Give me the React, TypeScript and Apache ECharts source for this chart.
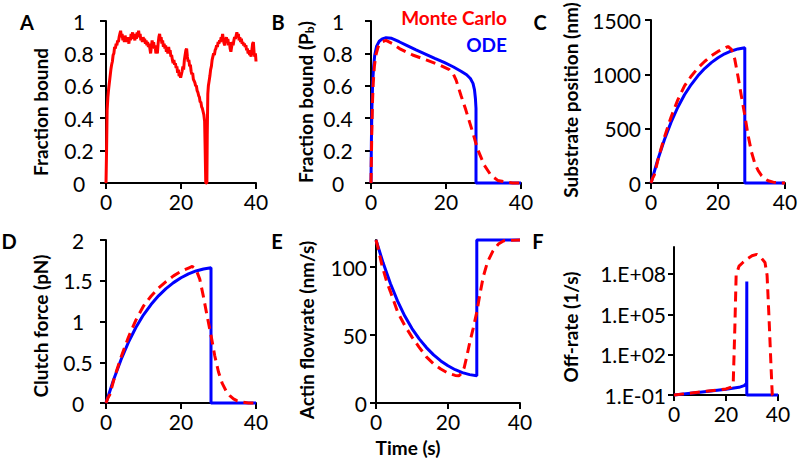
import React, { useEffect, useRef } from 'react';
import * as echarts from 'echarts';

const RED = '#ff0000';
const BLUE = '#0000ff';
const FONT = 'Lato';
const LABEL_SIZE = 21;
const NAME_SIZE = 19;

// X ticks shared by all panels
const xTicks = [0, 20, 40];

// Panel A: Monte Carlo fraction bound (single run)
const aT = [0, 0.15, 0.3, 0.5, 0.7, 0.9, 1.1, 1.3, 1.5, 1.7, 1.9, 2.1, 2.3, 2.5, 2.7, 2.9, 3.1, 3.3, 3.5, 3.7, 3.9, 4.1, 4.3, 4.5, 4.7, 4.9, 5.1, 5.3, 5.5, 5.7, 5.9, 6.1, 6.3, 6.5, 6.7, 6.9, 7.1, 7.3, 7.5, 7.7, 7.9, 8.1, 8.3, 8.5, 8.7, 8.9, 9.1, 9.3, 9.5, 9.7, 9.9, 10.1, 10.3, 10.5, 10.7, 10.9, 11.1, 11.3, 11.5, 11.7, 11.9, 12.1, 12.3, 12.5, 12.7, 12.9, 13.1, 13.3, 13.5, 13.7, 13.9, 14.1, 14.3, 14.5, 14.7, 14.9, 15.1, 15.3, 15.5, 15.7, 15.9, 16.1, 16.3, 16.5, 16.7, 16.9, 17.1, 17.3, 17.5, 17.7, 17.9, 18.1, 18.3, 18.5, 18.7, 18.9, 19.1, 19.3, 19.5, 19.7, 19.9, 20.1, 20.3, 20.5, 20.7, 20.9, 21.1, 21.3, 21.5, 21.7, 21.9, 22.1, 22.3, 22.5, 22.7, 22.9, 23.1, 23.3, 23.5, 23.7, 23.9, 24.1, 24.3, 24.5, 24.7, 24.9, 25.1, 25.3, 25.5, 25.7, 25.9, 26.1, 26.3, 26.45, 26.6, 26.9, 27.0, 27.15, 27.3, 27.5, 27.7, 27.9, 28.1, 28.3, 28.5, 28.7, 28.9, 29.1, 29.3, 29.5, 29.7, 29.9, 30.1, 30.3, 30.5, 30.7, 30.9, 31.1, 31.3, 31.5, 31.7, 31.9, 32.1, 32.3, 32.5, 32.7, 32.9, 33.1, 33.3, 33.5, 33.7, 33.9, 34.1, 34.3, 34.5, 34.7, 34.9, 35.1, 35.3, 35.5, 35.7, 35.9, 36.1, 36.3, 36.5, 36.7, 36.9, 37.1, 37.3, 37.5, 37.7, 37.9, 38.1, 38.3, 38.5, 38.7, 38.9, 39.1, 39.3, 39.5, 39.7, 39.85, 40];
const aY = [0, 0.2, 0.45, 0.53, 0.58, 0.62, 0.66, 0.7, 0.73, 0.75, 0.79, 0.8, 0.84, 0.83, 0.86, 0.85, 0.88, 0.87, 0.9, 0.92, 0.94, 0.9, 0.92, 0.88, 0.9, 0.87, 0.91, 0.88, 0.9, 0.87, 0.89, 0.86, 0.9, 0.88, 0.92, 0.9, 0.93, 0.89, 0.91, 0.88, 0.92, 0.89, 0.93, 0.91, 0.94, 0.9, 0.92, 0.88, 0.9, 0.87, 0.9, 0.88, 0.89, 0.86, 0.88, 0.85, 0.87, 0.84, 0.86, 0.83, 0.8, 0.84, 0.88, 0.85, 0.87, 0.83, 0.85, 0.8, 0.82, 0.8, 0.86, 0.9, 0.92, 0.88, 0.9, 0.86, 0.88, 0.84, 0.86, 0.83, 0.85, 0.81, 0.83, 0.8, 0.84, 0.81, 0.82, 0.78, 0.79, 0.76, 0.74, 0.76, 0.73, 0.74, 0.71, 0.72, 0.68, 0.7, 0.66, 0.67, 0.65, 0.67, 0.69, 0.72, 0.7, 0.76, 0.79, 0.82, 0.83, 0.78, 0.75, 0.76, 0.72, 0.73, 0.69, 0.67, 0.68, 0.64, 0.63, 0.62, 0.6, 0.6, 0.57, 0.56, 0.54, 0.53, 0.5, 0.5, 0.47, 0.46, 0.44, 0.42, 0.38, 0.2, 0, 0, 0.3, 0.55, 0.6, 0.63, 0.66, 0.7, 0.72, 0.76, 0.78, 0.8, 0.79, 0.82, 0.83, 0.85, 0.84, 0.87, 0.86, 0.88, 0.87, 0.9, 0.89, 0.92, 0.88, 0.86, 0.85, 0.88, 0.9, 0.87, 0.89, 0.85, 0.87, 0.83, 0.81, 0.84, 0.87, 0.85, 0.88, 0.9, 0.89, 0.91, 0.93, 0.9, 0.92, 0.88, 0.9, 0.87, 0.89, 0.86, 0.87, 0.85, 0.86, 0.84, 0.85, 0.82, 0.83, 0.8, 0.82, 0.79, 0.8, 0.78, 0.82, 0.86, 0.87, 0.8, 0.78, 0.8, 0.75];

// Panel B: fraction bound, ODE vs Monte Carlo
const bOdeT = [0, 0.1, 0.25, 0.45, 0.7, 1.0, 1.5, 2.2, 3.0, 4.0, 5.5, 7.5, 9.5, 12, 14.5, 17, 19.5, 22, 24, 25.5, 26.5, 27.2, 27.6, 27.85, 28, 28, 40];
const bOdeY = [0, 0.25, 0.47, 0.62, 0.72, 0.79, 0.845, 0.875, 0.89, 0.897, 0.893, 0.872, 0.85, 0.822, 0.796, 0.77, 0.745, 0.716, 0.69, 0.668, 0.645, 0.615, 0.575, 0.52, 0.46, 0, 0];
const bMcT = [0, 0.2, 0.4, 0.6, 0.9, 1.3, 1.9, 2.7, 4.0, 5.8, 7.6, 11.1, 14.7, 18.2, 20.9, 22, 22.7, 24, 25.3, 27.1, 28.4, 30.2, 32, 33.8, 36, 37.8, 40];
const bMcY = [0, 0.3, 0.5, 0.62, 0.72, 0.79, 0.84, 0.87, 0.88, 0.86, 0.83, 0.79, 0.76, 0.73, 0.7, 0.67, 0.635, 0.54, 0.45, 0.315, 0.21, 0.11, 0.047, 0.016, 0.006, 0, 0];

// Panels C, D, E: ODE time points
const odeT = [0, 2, 4, 6, 8, 10, 12, 14, 16, 18, 20, 22, 24, 26, 28, 28, 40];
// Panels C, D: Monte Carlo time points
const mcT = [0, 0.5, 1, 2, 3, 4, 6, 8, 10, 12, 14, 16, 18, 20, 22, 23, 24, 25, 26, 27, 28, 29, 30, 31, 32, 33, 34, 35, 36.5, 38, 40];

// Panel C: substrate position (nm)
const cOdeY = [0, 212, 398, 560, 697, 812, 906, 986, 1053, 1108, 1153, 1189, 1215, 1234, 1245, 0, 0];
const cMcY = [0, 45, 75, 203, 315, 420, 608, 765, 893, 983, 1058, 1118, 1170, 1211, 1241, 1256, 1230, 1140, 975, 795, 623, 435, 285, 180, 113, 68, 38, 20, 8, 0, 0];

// Panel D: clutch force (pN)
const dOdeY = [0, 0.282, 0.531, 0.747, 0.93, 1.082, 1.208, 1.315, 1.404, 1.477, 1.537, 1.585, 1.62, 1.645, 1.66, 0, 0];
const dMcY = [0, 0.06, 0.1, 0.27, 0.42, 0.56, 0.81, 1.02, 1.19, 1.31, 1.41, 1.49, 1.56, 1.615, 1.655, 1.675, 1.64, 1.52, 1.3, 1.06, 0.83, 0.58, 0.38, 0.24, 0.15, 0.09, 0.05, 0.026, 0.01, 0, 0];

// Panel E: actin flowrate (nm/s)
const eOdeY = [120, 103, 88, 75, 64, 54.8, 47.2, 40.8, 35.4, 31, 27.4, 24.5, 22.4, 20.9, 20, 120, 120];
const eMcT = [0, 0.5, 1.6, 3, 4, 6, 8, 10, 12, 14, 16, 18, 20, 22, 23, 23.8, 24.5, 25.2, 26, 27, 28, 29, 29.8, 31, 32.5, 34, 35.5, 40];
const eMcY = [120, 115, 102, 89, 82, 67, 57, 48.5, 41, 34, 28.8, 25, 22, 20.3, 20, 22, 26, 34, 44, 55, 67, 82, 93, 104, 112, 117, 119.5, 120];

// Panel F: off-rate, stored as log10(1/s)
const fOdeT = [0, 10, 20, 25, 27, 27.6, 27.9, 28, 28, 40];
const fOdeLog = [-1, -0.79, -0.58, -0.43, -0.3, -0.2, -0.1, 7.43, -1, -1];
const fMcT = [0, 10, 20, 22, 22.8, 23.4, 23.9, 25, 26.5, 28, 30, 31.8, 33.5, 35, 35.8, 36.6, 37.3, 37.8, 40];
const fMcLog = [-1, -0.78, -0.55, -0.42, 0, 4, 7.9, 8.58, 8.85, 9.1, 9.35, 9.45, 9.2, 8.85, 7.9, 4.5, 1.2, -1, -1];

// Y tick values per panel
const yTicksA = [0, 0.2, 0.4, 0.6, 0.8, 1];
const yTicksB = [0, 0.2, 0.4, 0.6, 0.8, 1];
const yTicksC = [0, 500, 1000, 1500];
const yTicksD = [0, 0.5, 1, 1.5, 2];
const yTicksE = [0, 50, 100];
const yTicksF = [-1, 2, 5, 8];

const pairs = (t: number[], y: number[]) => t.map((v, i) => [v, y[i]]);

const fmtPlain = (v: number) => String(v);
const fmtExp = (v: number) => {
  const e = Math.round(v);
  return '1.E' + (e < 0 ? '-' : '+') + String(Math.abs(e)).padStart(2, '0');
};

function xAxis(gridIndex: number) {
  return {
    type: 'value', gridIndex, min: 0, max: 40, interval: 20,
    axisLine: { show: true, onZero: false, lineStyle: { color: '#000', width: 2 } },
    axisTick: { show: true, inside: false, length: 6, lineStyle: { color: '#000', width: 2 }, customValues: xTicks },
    axisLabel: { color: '#000', fontSize: LABEL_SIZE, fontFamily: FONT, margin: 8, customValues: xTicks, formatter: fmtPlain },
    splitLine: { show: false },
  };
}

function yAxis(gridIndex: number, min: number, max: number, interval: number, ticks: number[], align: string, margin: number, formatter: (v: number) => string = fmtPlain) {
  return {
    type: 'value', gridIndex, min, max, interval,
    axisLine: { show: true, onZero: false, lineStyle: { color: '#000', width: 2 } },
    axisTick: { show: true, inside: false, length: 6, lineStyle: { color: '#000', width: 2 }, customValues: ticks },
    axisLabel: { color: '#000', fontSize: LABEL_SIZE, fontFamily: FONT, margin, align, customValues: ticks, formatter },
    splitLine: { show: false },
  };
}

function line(idx: number, t: number[], y: number[], color: string, dashed: boolean, width = 3) {
  return {
    type: 'line', xAxisIndex: idx, yAxisIndex: idx, data: pairs(t, y),
    symbol: 'none', showSymbol: false, smooth: false, clip: false,
    lineStyle: { color, width, type: dashed ? [10, 6] : 'solid', cap: 'butt' },
    z: dashed ? 3 : 2,
  };
}

function label(text: string, x: number, y: number, size = 19, color = '#000', align = 'center') {
  return {
    type: 'text', x, y, silent: true,
    style: { text, fill: color, fontSize: size, fontWeight: 'bold', fontFamily: FONT, align, verticalAlign: 'middle' },
  };
}

function vname(text: string, x: number, y: number) {
  return {
    type: 'text', x, y, rotation: Math.PI / 2, silent: true,
    style: { text, fill: '#000', fontSize: NAME_SIZE, fontWeight: 'bold', fontFamily: FONT, align: 'center', verticalAlign: 'middle' },
  };
}

export default function App() {
  const ref = useRef<HTMLDivElement>(null);
  useEffect(() => {
    if (!ref.current) return;
    const chart = echarts.init(ref.current, null, { renderer: 'svg' });
    const grids = [
      { left: 106, top: 21, width: 150, height: 162 },
      { left: 371, top: 21, width: 150, height: 162 },
      { left: 651, top: 20, width: 134, height: 163 },
      { left: 106, top: 240, width: 150, height: 163 },
      { left: 376, top: 240, width: 144, height: 163 },
      { left: 674, top: 247, width: 104, height: 148 },
    ].map(g => ({ ...g, containLabel: false, outerBoundsMode: 'none', show: false }));

    chart.setOption({
      animation: false,
      backgroundColor: '#fff',
      grid: grids,
      xAxis: [0, 1, 2, 3, 4, 5].map(i => xAxis(i)),
      yAxis: [
        yAxis(0, 0, 1, 0.2, yTicksA, 'center', 27),
        yAxis(1, 0, 1, 0.2, yTicksB, 'center', 33),
        yAxis(2, 0, 1500, 500, yTicksC, 'right', 10),
        yAxis(3, 0, 2, 0.5, yTicksD, 'center', 28),
        yAxis(4, 0, 120, 50, yTicksE, 'right', 9),
        yAxis(5, -1, 10, 3, yTicksF, 'right', 8, fmtExp),
      ],
      series: [
        line(0, aT, aY, RED, false, 3),
        line(1, bOdeT, bOdeY, BLUE, false),
        line(1, bMcT, bMcY, RED, true),
        line(2, odeT, cOdeY, BLUE, false),
        line(2, mcT, cMcY, RED, true),
        line(3, odeT, dOdeY, BLUE, false),
        line(3, mcT, dMcY, RED, true),
        line(4, odeT, eOdeY, BLUE, false),
        line(4, eMcT, eMcY, RED, true),
        line(5, fOdeT, fOdeLog, BLUE, false),
        line(5, fMcT, fMcLog, RED, true),
      ],
      graphic: [
        label('A', 27, 22, 20),
        label('B', 278, 22, 20),
        label('C', 540, 22, 20),
        label('D', 9, 241, 20),
        label('E', 277, 241, 20),
        label('F', 538, 241, 20),
        label('Monte Carlo', 507, 17, 19, RED, 'right'),
        label('ODE', 507, 44, 19, BLUE, 'right'),
        label('Time (s)', 408, 447, 19),
        vname('Fraction bound', 40, 112),
        {
          type: 'text', x: 305, y: 102, rotation: Math.PI / 2, silent: true,
          style: {
            text: '{n|Fraction bound (P}{s|b}{n|)}', fill: '#000', align: 'center', verticalAlign: 'middle',
            rich: {
              n: { fontSize: NAME_SIZE, fontWeight: 'bold', fontFamily: FONT, fill: '#000' },
              s: { fontSize: 12, fontWeight: 'bold', fontFamily: FONT, fill: '#000', verticalAlign: 'bottom', padding: [8, 0, 0, 0] },
            },
          },
        },
        vname('Substrate position (nm)', 570, 100),
        vname('Clutch force (pN)', 40, 326),
        vname('Actin flowrate (nm/s)', 306, 330),
        vname('Off-rate (1/s)', 570, 327),
      ],
    });
    return () => chart.dispose();
  }, []);
  return <div ref={ref} style={{ position: 'fixed', left: 0, top: 0, width: 800, height: 469, background: '#fff' }} />;
}
